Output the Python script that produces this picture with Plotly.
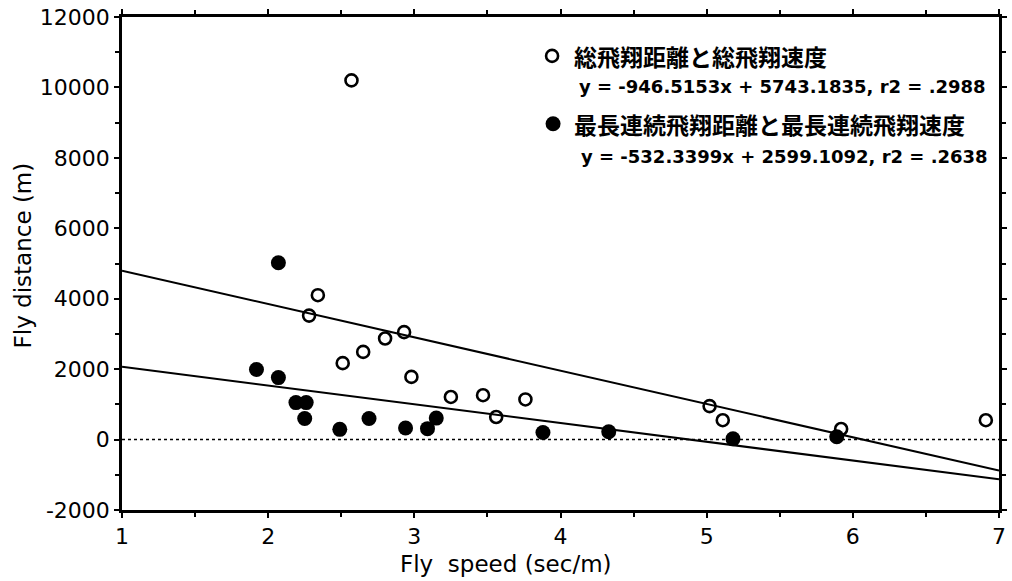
import plotly.graph_objects as go

# Total flight distance vs. total flight speed (open circles)
total_speed = [2.57, 2.34, 2.28, 2.93, 2.80, 2.65, 2.51, 2.98, 3.25, 3.47, 3.56, 3.76, 5.02, 5.11, 5.92, 6.91]
total_dist = [10200, 4100, 3520, 3050, 2870, 2490, 2170, 1780, 1210, 1260, 640, 1140, 950, 550, 300, 550]

# Longest continuous flight distance vs. speed (filled circles)
long_speed = [2.07, 1.92, 2.07, 2.19, 2.26, 2.25, 2.49, 2.69, 2.94, 3.09, 3.15, 3.88, 4.33, 5.18, 5.89]
long_dist = [5020, 1990, 1760, 1050, 1050, 600, 290, 600, 330, 310, 610, 200, 220, 20, 80]

# Regression coefficients (slope, intercept)
fit_total = (-946.5153, 5743.1835)
fit_long = (-532.3399, 2599.1092)
fit_x = [1, 7]

label_total = "総飛翔距離と総飛翔速度"
eq_total = "y = -946.5153x + 5743.1835, r2 = .2988"
label_long = "最長連続飛翔距離と最長連続飛翔速度"
eq_long = "y = -532.3399x + 2599.1092, r2 = .2638"

x_title = "Fly  speed (sec/m)"
y_title = "Fly distance (m)"

x_tick_vals = [1, 2, 3, 4, 5, 6, 7]
x_tick_text = ["1", "2", "3", "4", "5", "6", "7"]
y_tick_vals = [-2000, 0, 2000, 4000, 6000, 8000, 10000, 12000]
y_tick_text = ["-2000", "0", "2000", "4000", "6000", "8000", "10000", "12000"]

W, H = 1012, 581
ML, MR, MT, MB = 122, 5, 16, 71
PW, PH = W - ML - MR, H - MT - MB


def px(xp):
    return (xp - ML) / PW


def py(yp):
    return (H - MB - yp) / PH


fig = go.Figure()

for (m, b) in (fit_total, fit_long):
    fig.add_trace(go.Scatter(
        x=fit_x, y=[m * v + b for v in fit_x], mode="lines",
        line=dict(color="black", width=2), showlegend=False, hoverinfo="skip"))

fig.add_trace(go.Scatter(
    x=total_speed, y=total_dist, mode="markers",
    marker=dict(symbol="circle-open", size=12, color="black", line=dict(width=2.6)),
    showlegend=False))
fig.add_trace(go.Scatter(
    x=long_speed, y=long_dist, mode="markers",
    marker=dict(symbol="circle", size=15, color="black"),
    showlegend=False))

# zero reference line
fig.add_shape(type="line", xref="paper", yref="y", x0=0, x1=1, y0=0, y1=0,
              line=dict(color="black", width=1.5, dash="dot"))

# legend symbols
fig.add_shape(type="circle", xref="paper", yref="paper", xsizemode="pixel", ysizemode="pixel",
              xanchor=px(556), yanchor=py(55), x0=-6, x1=6, y0=-6, y1=6,
              line=dict(color="black", width=2.6), fillcolor="rgba(0,0,0,0)")
fig.add_shape(type="circle", xref="paper", yref="paper", xsizemode="pixel", ysizemode="pixel",
              xanchor=px(557), yanchor=py(123), x0=-7.5, x1=7.5, y0=-7.5, y1=7.5,
              line=dict(color="black", width=0), fillcolor="black")

cjk = dict(family="Noto Sans CJK JP", size=23, color="black", weight="bold")
eqf = dict(family="DejaVu Sans", size=18, color="black", weight="bold")
anns = [
    (label_total, 576, 55, cjk),
    (eq_total, 581, 86, eqf),
    (label_long, 576, 123, cjk),
    (eq_long, 583, 156, eqf),
]
for t, x, y, f in anns:
    fig.add_annotation(text=t, xref="paper", yref="paper", x=px(x), y=py(y),
                       xanchor="left", yanchor="middle", showarrow=False, font=f)

fig.add_annotation(text=x_title, xref="paper", yref="paper", x=px(510), y=py(564),
                   xanchor="center", yanchor="middle", showarrow=False,
                   font=dict(family="DejaVu Sans", size=23, color="black"))
fig.add_annotation(text=y_title, xref="paper", yref="paper", x=px(22), y=py(255),
                   xanchor="center", yanchor="middle", showarrow=False, textangle=-90,
                   font=dict(family="DejaVu Sans", size=23, color="black"))

axis_common = dict(showline=True, linecolor="black", linewidth=2.5, mirror="ticks",
                   ticks="outside", ticklen=5, tickwidth=2, tickcolor="black",
                   showgrid=False, zeroline=False,
                   tickfont=dict(family="DejaVu Sans", size=22, color="black"))

fig.update_xaxes(range=[1, 7], tickmode="array", tickvals=x_tick_vals, ticktext=x_tick_text,
                 minor=dict(dtick=0.5, tick0=1, ticks="outside", ticklen=4, tickcolor="black", tickwidth=2),
                 **axis_common)
fig.update_yaxes(range=[-2000, 12000], tickmode="array", tickvals=y_tick_vals, ticktext=y_tick_text,
                 minor=dict(dtick=1000, tick0=0, ticks="outside", ticklen=4, tickcolor="black", tickwidth=2),
                 **axis_common)

fig.update_layout(width=W, height=H, margin=dict(l=ML, r=MR, t=MT, b=MB),
                  plot_bgcolor="white", paper_bgcolor="white", showlegend=False)

fig.write_html("out.html")
